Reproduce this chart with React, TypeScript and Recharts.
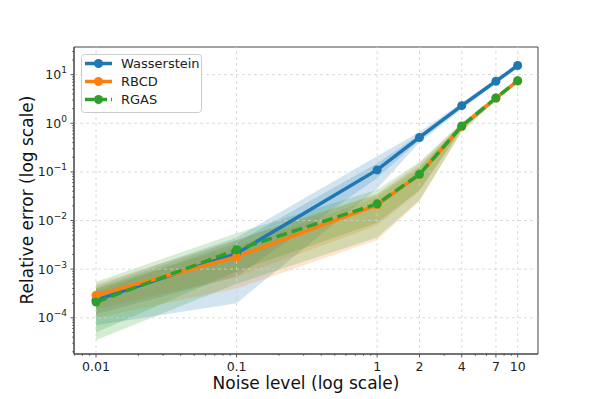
import React from "react";
import {
  ComposedChart,
  Line,
  Area,
  XAxis,
  YAxis,
  ReferenceLine,
  ReferenceArea,
} from "recharts";

const noiseLevels = [0.01, 0.1, 1, 2, 4, 7, 10];

const wassersteinMean = [2.3e-4, 2.1e-3, 0.11, 0.51, 2.3, 7.3, 15.4];
const wassersteinOuterLow = [7e-5, 2e-4, 0.045, 0.4, 1.95, 6.6, 14.2];
const wassersteinOuterHigh = [4.5e-4, 4.5e-3, 0.21, 0.66, 2.65, 8.0, 16.6];
const wassersteinInnerLow = [1.2e-4, 7e-4, 0.075, 0.45, 2.1, 6.9, 14.8];
const wassersteinInnerHigh = [3.5e-4, 3.5e-3, 0.15, 0.58, 2.5, 7.7, 16.0];

const rbcdMean = [2.9e-4, 1.8e-3, 0.021, 0.088, 0.86, 3.3, 7.4];
const rbcdOuterLow = [1e-4, 4e-4, 0.004, 0.025, 0.68, 2.95, 6.9];
const rbcdOuterHigh = [5e-4, 4e-3, 0.036, 0.15, 1.02, 3.65, 8.0];
const rbcdInnerLow = [1.5e-4, 7e-4, 0.008, 0.04, 0.75, 3.1, 7.1];
const rbcdInnerHigh = [4e-4, 3e-3, 0.03, 0.12, 0.96, 3.5, 7.8];

const rgasMean = [2.1e-4, 2.5e-3, 0.022, 0.089, 0.88, 3.3, 7.5];
const rgasOuterLow = [3.5e-5, 5e-4, 0.0045, 0.026, 0.68, 2.95, 7.0];
const rgasOuterHigh = [5.5e-4, 5.5e-3, 0.043, 0.16, 1.02, 3.65, 8.1];
const rgasInnerLow = [5e-5, 9e-4, 0.009, 0.042, 0.76, 3.1, 7.2];
const rgasInnerHigh = [4e-4, 4e-3, 0.034, 0.13, 0.96, 3.5, 7.9];

const xMajorTicks = [0.01, 0.1, 1, 2, 4, 7, 10];
const xTickLabels = ["0.01", "0.1", "1", "2", "4", "7", "10"];
const xMinorTicks = [
  0.007, 0.008, 0.009, 0.02, 0.03, 0.04, 0.05, 0.06, 0.07, 0.08, 0.09,
  0.2, 0.3, 0.4, 0.5, 0.6, 0.7, 0.8, 0.9, 3, 5, 6, 8, 9,
];
const yMajorTicks = [1e-4, 1e-3, 1e-2, 1e-1, 1, 10];
const yTickExponents = ["\u22124", "\u22123", "\u22122", "\u22121", "0", "1"];
const yMinorTicks = [
  2e-5, 3e-5, 4e-5, 5e-5, 6e-5, 7e-5, 8e-5, 9e-5,
  2e-4, 3e-4, 4e-4, 5e-4, 6e-4, 7e-4, 8e-4, 9e-4,
  2e-3, 3e-3, 4e-3, 5e-3, 6e-3, 7e-3, 8e-3, 9e-3,
  2e-2, 3e-2, 4e-2, 5e-2, 6e-2, 7e-2, 8e-2, 9e-2,
  0.2, 0.3, 0.4, 0.5, 0.6, 0.7, 0.8, 0.9,
  2, 3, 4, 5, 6, 7, 8, 9, 20, 30,
];

const X_DOMAIN: [number, number] = [0.00697, 13.95];
const Y_DOMAIN: [number, number] = [1.8e-5, 37];

const BLUE = "#1f77b4";
const ORANGE = "#ff7f0e";
const GREEN = "#2ca02c";
const FONT = "'DejaVu Sans', sans-serif";

const data = noiseLevels.map((x, i) => ({
  x,
  w: wassersteinMean[i],
  wOuter: [wassersteinOuterLow[i], wassersteinOuterHigh[i]],
  wInner: [wassersteinInnerLow[i], wassersteinInnerHigh[i]],
  r: rbcdMean[i],
  rOuter: [rbcdOuterLow[i], rbcdOuterHigh[i]],
  rInner: [rbcdInnerLow[i], rbcdInnerHigh[i]],
  g: rgasMean[i],
  gOuter: [rgasOuterLow[i], rgasOuterHigh[i]],
  gInner: [rgasInnerLow[i], rgasInnerHigh[i]],
}));

const near = (a: number, b: number) => Math.abs(a - b) / b < 1e-6;

const XTick = (props: any) => {
  const { x, y, payload } = props;
  const v = payload.value;
  const idx = xMajorTicks.findIndex((t) => near(v, t));
  const major = idx >= 0;
  return (
    <g>
      <line x1={x} x2={x} y1={y} y2={y + (major ? 3.5 : 2)} stroke="#333" strokeWidth={major ? 0.8 : 0.6} />
      {major && (
        <text x={x} y={y + 17} textAnchor="middle" fontSize={12.5} fontFamily={FONT} fill="#222">
          {xTickLabels[idx]}
        </text>
      )}
    </g>
  );
};

const YTick = (props: any) => {
  const { x, y, payload } = props;
  const v = payload.value;
  const idx = yMajorTicks.findIndex((t) => near(v, t));
  const major = idx >= 0;
  return (
    <g>
      <line x1={x - (major ? 3.5 : 2)} x2={x} y1={y} y2={y} stroke="#333" strokeWidth={major ? 0.8 : 0.6} />
      {major && (
        <text x={x - 7} y={y + 4.5} textAnchor="end" fontSize={12.5} fontFamily={FONT} fill="#222">
          10
          <tspan dy={-6} fontSize={9}>
            {yTickExponents[idx]}
          </tspan>
        </text>
      )}
    </g>
  );
};

const legendItems = [
  { name: "Wasserstein", color: BLUE, dash: undefined as string | undefined },
  { name: "RBCD", color: ORANGE, dash: undefined as string | undefined },
  { name: "RGAS", color: GREEN, dash: "9 4" },
];

const LegendBox = () => (
  <svg width={122} height={60} style={{ display: "block" }}>
    <rect x={0.5} y={0.5} width={120} height={58} rx={3} fill="#fff" fillOpacity={0.8} stroke="#ccc" />
    {legendItems.map((it, i) => {
      const cy = 9.5 + i * 18;
      return (
        <g key={it.name}>
          <line x1={4} x2={31} y1={cy} y2={cy} stroke={it.color} strokeWidth={3.5} strokeDasharray={it.dash} />
          <circle cx={17.5} cy={cy} r={4.5} fill={it.color} />
          <text x={40} y={cy + 4.5} fontSize={13} fontFamily={FONT} fill="#222">
            {it.name}
          </text>
        </g>
      );
    })}
  </svg>
);

const bandProps = {
  type: "linear" as const,
  stroke: "none",
  fillOpacity: 0.2,
  isAnimationActive: false,
  dot: false,
  activeDot: false,
};

export default function App() {
  return (
    <div style={{ position: "absolute", left: 0, top: 0, width: 598, height: 399, background: "#fff" }}>
      <ComposedChart
        width={598}
        height={399}
        data={data}
        margin={{ top: 47, right: 60, bottom: 0, left: 0 }}
      >
        <XAxis
          dataKey="x"
          type="number"
          scale="log"
          domain={X_DOMAIN}
          allowDataOverflow
          ticks={[...xMajorTicks, ...xMinorTicks]}
          interval={0}
          tick={<XTick />}
          tickLine={false}
          tickSize={0}
          tickMargin={0}
          axisLine={{ stroke: "#444", strokeWidth: 1 }}
          height={45}
        />
        <YAxis
          type="number"
          scale="log"
          domain={Y_DOMAIN}
          allowDataOverflow
          ticks={[...yMajorTicks, ...yMinorTicks]}
          interval={0}
          tick={<YTick />}
          tickLine={false}
          tickSize={0}
          tickMargin={0}
          axisLine={{ stroke: "#444", strokeWidth: 1 }}
          width={74}
        />
        {xMajorTicks.map((t) => (
          <ReferenceLine key={"vx" + t} x={t} stroke="#d0d0d0" strokeDasharray="3 3" strokeWidth={0.8} />
        ))}
        {yMajorTicks.map((t) => (
          <ReferenceLine key={"hy" + t} y={t} stroke="#d0d0d0" strokeDasharray="3 3" strokeWidth={0.8} />
        ))}
        <Area {...bandProps} dataKey="wOuter" fill={BLUE} />
        <Area {...bandProps} dataKey="wInner" fill={BLUE} />
        <Line type="linear" dataKey="w" stroke={BLUE} strokeWidth={3.5} dot={{ r: 4.5, fill: BLUE, stroke: BLUE, strokeWidth: 0 }} activeDot={false} isAnimationActive={false} />
        <Area {...bandProps} dataKey="rOuter" fill={ORANGE} />
        <Area {...bandProps} dataKey="rInner" fill={ORANGE} />
        <Line type="linear" dataKey="r" stroke={ORANGE} strokeWidth={3.5} dot={{ r: 4.5, fill: ORANGE, stroke: ORANGE, strokeWidth: 0 }} activeDot={false} isAnimationActive={false} />
        <Area {...bandProps} dataKey="gOuter" fill={GREEN} />
        <Area {...bandProps} dataKey="gInner" fill={GREEN} />
        <Line type="linear" dataKey="g" stroke={GREEN} strokeWidth={3.5} strokeDasharray="11 5" dot={{ r: 4.5, fill: GREEN, stroke: GREEN, strokeWidth: 0, strokeDasharray: "" }} activeDot={false} isAnimationActive={false} />
        <ReferenceArea x1={X_DOMAIN[0]} x2={X_DOMAIN[1]} y1={Y_DOMAIN[0]} y2={Y_DOMAIN[1]} fill="none" fillOpacity={0} stroke="#444" strokeWidth={1} ifOverflow="visible" />
      </ComposedChart>
      <div style={{ position: "absolute", left: 81, top: 54 }}>
        <LegendBox />
      </div>
      <div
        style={{
          position: "absolute",
          left: 306,
          top: 383,
          transform: "translate(-50%, -50%)",
          fontFamily: FONT,
          fontSize: 17,
          color: "#111",
          whiteSpace: "nowrap",
        }}
      >
        Noise level (log scale)
      </div>
      <div
        style={{
          position: "absolute",
          left: 27,
          top: 200,
          transform: "translate(-50%, -50%) rotate(-90deg)",
          fontFamily: FONT,
          fontSize: 17,
          color: "#111",
          whiteSpace: "nowrap",
        }}
      >
        Relative error (log scale)
      </div>
    </div>
  );
}
